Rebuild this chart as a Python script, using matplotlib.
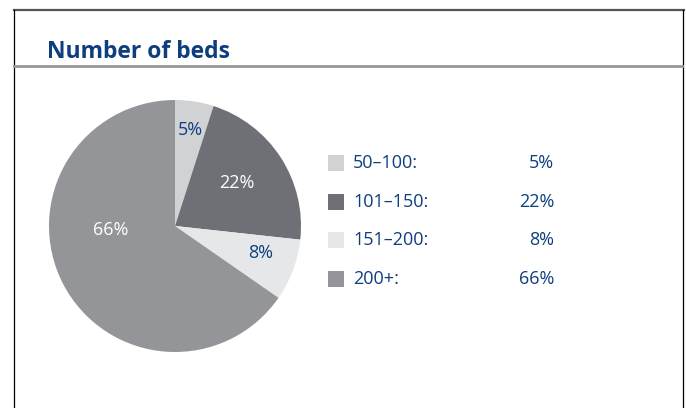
import numpy as np
import matplotlib
matplotlib.use("Agg")
import matplotlib.pyplot as plt
from matplotlib.lines import Line2D
from matplotlib.patches import Rectangle

# Share of hospitals by number of beds
categories = ["50\u2013100:", "101\u2013150:", "151\u2013200:", "200+:"]
shares = [5, 22, 8, 66]
pct_labels = ["5%", "22%", "8%", "66%"]

colors = ["#d1d2d4", "#6f7075", "#e6e7e8", "#939598"]
label_colors = ["#0e3e7e", "white", "#0e3e7e", "white"]
BLUE = "#0e3e7e"

W, H = 686, 408
plt.rcParams["font.family"] = ["Open Sans", "DejaVu Sans"]

fig = plt.figure(figsize=(W / 100, H / 100), dpi=100)


def fx(px):
    return px / W


def fy(py):
    return 1 - py / H


# frame around the panel
fig.add_artist(Line2D([fx(14), fx(684)], [fy(10), fy(10)], color="#555555", lw=1.6))
fig.add_artist(Line2D([fx(14.5), fx(14.5)], [fy(10), 0], color="black", lw=0.9))
fig.add_artist(Line2D([fx(683), fx(683)], [fy(10), 0], color="black", lw=0.9))
# rule under the title
fig.add_artist(Line2D([fx(14), fx(682)], [fy(66), fy(66)], color="#98989c", lw=2))

fig.text(fx(47), fy(58), "Number of beds", fontsize=16.5, fontweight="bold",
         color=BLUE, ha="left", va="baseline")

# pie
cx, cy, r = 175, 226, 126
ax = fig.add_axes([fx(cx - r), fy(cy + r), 2 * r / W, 2 * r / H])
wedges, _ = ax.pie(shares, colors=colors, startangle=90, counterclock=False,
                   wedgeprops=dict(linewidth=0))
ax.set_xlim(-1, 1)
ax.set_ylim(-1, 1)
ax.set_aspect("equal")
ax.axis("off")

# label placement inside each wedge (radius fraction, angle tweak in degrees)
label_r = [0.77, 0.60, 0.71, 0.51]
label_da = [0, 2, 3, -24]
for w, txt, col, lr, da in zip(wedges, pct_labels, label_colors, label_r, label_da):
    ang = np.deg2rad((w.theta1 + w.theta2) / 2 + da)
    ax.text(lr * np.cos(ang), lr * np.sin(ang), txt, color=col, fontsize=13,
            ha="center", va="center")

# legend
row_y = [163, 202, 240, 279]
for cat, txt, col, y in zip(categories, pct_labels, colors, row_y):
    fig.add_artist(Rectangle((fx(328), fy(y + 8)), 16 / W, 16 / H,
                             facecolor=col, edgecolor="none"))
    fig.text(fx(353), fy(y), cat, fontsize=13, color=BLUE, ha="left", va="center")
    fig.text(fx(554), fy(y), txt, fontsize=13, color=BLUE, ha="right", va="center")

fig.savefig("out.png", dpi=100, facecolor="white")
